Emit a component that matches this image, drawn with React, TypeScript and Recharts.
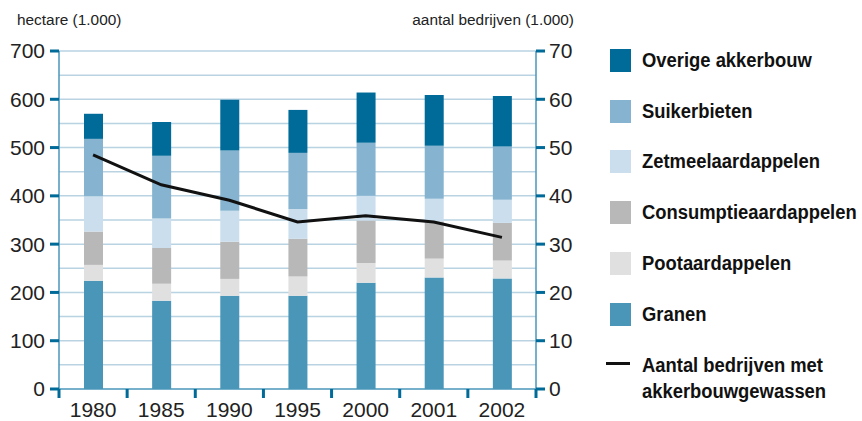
import React from 'react';
import { ComposedChart, Bar, Line, XAxis, YAxis, CartesianGrid } from 'recharts';

const years = ['1980', '1985', '1990', '1995', '2000', '2001', '2002'];
const granen = [224, 183, 193, 193, 220, 231, 229];
const pootaardappelen = [33, 35, 35, 40, 41, 39, 37];
const consumptieaardappelen = [69, 74, 77, 78, 88, 77, 78];
const zetmeelaardappelen = [73, 61, 64, 62, 51, 47, 48];
const suikerbieten = [119, 130, 125, 116, 110, 110, 110];
const overigeAkkerbouw = [52, 70, 105, 89, 104, 105, 105];
const aantalBedrijven = [48.5, 42.3, 39.1, 34.6, 35.9, 34.6, 31.4];

const leftTicks = [0, 100, 200, 300, 400, 500, 600, 700];
const rightTicks = [0, 10, 20, 30, 40, 50, 60, 70];
const gridValues = [50, 100, 150, 200, 250, 300, 350, 400, 450, 500, 550, 600, 650, 700];

const data = years.map((year, i) => ({
  year,
  granen: granen[i],
  poot: pootaardappelen[i],
  consumptie: consumptieaardappelen[i],
  zetmeel: zetmeelaardappelen[i],
  suiker: suikerbieten[i],
  overige: overigeAkkerbouw[i],
  bedrijven: aantalBedrijven[i],
}));

const series = [
  { key: 'granen', name: 'Granen', color: '#4a96b9' },
  { key: 'poot', name: 'Pootaardappelen', color: '#e0e0e0' },
  { key: 'consumptie', name: 'Consumptieaardappelen', color: '#b8b8b8' },
  { key: 'zetmeel', name: 'Zetmeelaardappelen', color: '#cadeed' },
  { key: 'suiker', name: 'Suikerbieten', color: '#85b3d0' },
  { key: 'overige', name: 'Overige akkerbouw', color: '#006a98' },
];

const W = 862;
const H = 421;
const plotLeft = 59;
const plotRight = 536;
const halfBand = (plotRight - plotLeft) / years.length / 2;
const font = '"Liberation Sans", Arial, sans-serif';

const legendText: React.CSSProperties = {
  position: 'absolute',
  left: 642,
  fontFamily: font,
  fontWeight: 'bold',
  fontSize: 20,
  lineHeight: '26px',
  color: '#111',
  whiteSpace: 'nowrap',
  transform: 'scaleX(0.92)',
  transformOrigin: 'left center',
};

function XTick(props: any) {
  const { x, y, payload, index } = props;
  const tickColor = '#006a98';
  return (
    <g>
      <line x1={x - halfBand} x2={x - halfBand} y1={y} y2={y + 9} stroke={tickColor} strokeWidth={3} />
      {index === years.length - 1 && (
        <line x1={x + halfBand} x2={x + halfBand} y1={y} y2={y + 9} stroke={tickColor} strokeWidth={3} />
      )}
      <text x={x} y={y + 28} textAnchor="middle" fill="#222" fontSize={21} fontFamily={font}>
        {payload.value}
      </text>
    </g>
  );
}

function LegendBlock() {
  const items = [...series].reverse();
  return (
    <div style={{ position: 'absolute', left: 0, top: 0, width: W, height: H, pointerEvents: 'none' }}>
      {items.map((s, i) => (
        <div key={s.key}>
          <div
            style={{
              position: 'absolute',
              left: 610,
              top: 49 + i * 50.7,
              width: 21,
              height: 23,
              background: s.color,
            }}
          />
          <div style={{ ...legendText, top: 49 + i * 50.7 - 2 }}>{s.name}</div>
        </div>
      ))}
      <div style={{ position: 'absolute', left: 606, top: 362, width: 24, height: 3, background: '#111' }} />
      <div style={{ ...legendText, top: 352 }}>
        Aantal bedrijven met
        <br />
        akkerbouwgewassen
      </div>
    </div>
  );
}

export default function App() {
  return (
    <div style={{ position: 'absolute', left: 0, top: 0, width: W, height: H, background: '#fff' }}>
      <ComposedChart
        width={W}
        height={H}
        data={data}
        margin={{ top: 51, right: W - plotRight - 40, bottom: 0, left: 0 }}
      >
        <CartesianGrid
          vertical={false}
          horizontalValues={gridValues}
          stroke="#b9d3e3"
          strokeWidth={1.5}
          yAxisId="left"
        />
        <XAxis
          dataKey="year"
          tickLine={false}
          tickSize={0}
          tickMargin={0}
          axisLine={{ stroke: '#4a96b9', strokeWidth: 1.5 }}
          tick={<XTick />}
          interval={0}
          height={H - 389}
        />
        <YAxis
          yAxisId="left"
          orientation="left"
          domain={[0, 700]}
          ticks={leftTicks}
          width={plotLeft}
          tickSize={9}
          tickMargin={5}
          tickLine={{ stroke: '#006a98', strokeWidth: 3 }}
          axisLine={{ stroke: '#4a96b9', strokeWidth: 1.5 }}
          tick={{ fill: '#222', fontSize: 21, fontFamily: font }}
          interval={0}
        />
        <YAxis
          yAxisId="right"
          orientation="right"
          domain={[0, 70]}
          ticks={rightTicks}
          width={40}
          tickSize={9}
          tickMargin={4}
          tickLine={{ stroke: '#006a98', strokeWidth: 3 }}
          axisLine={{ stroke: '#4a96b9', strokeWidth: 1.5 }}
          tick={{ fill: '#222', fontSize: 21, fontFamily: font }}
          interval={0}
        />
        {series.map((s) => (
          <Bar
            key={s.key}
            yAxisId="left"
            dataKey={s.key}
            name={s.name}
            stackId="a"
            fill={s.color}
            barSize={19}
            isAnimationActive={false}
          />
        ))}
        <Line
          yAxisId="right"
          type="linear"
          dataKey="bedrijven"
          stroke="#111"
          strokeWidth={3}
          dot={false}
          isAnimationActive={false}
        />
        <text x={17} y={25} fontSize={15.4} fontFamily={font} fill="#222">
          hectare (1.000)
        </text>
        <text x={574} y={25} fontSize={15.4} fontFamily={font} fill="#222" textAnchor="end">
          aantal bedrijven (1.000)
        </text>
      </ComposedChart>
      <LegendBlock />
    </div>
  );
}
